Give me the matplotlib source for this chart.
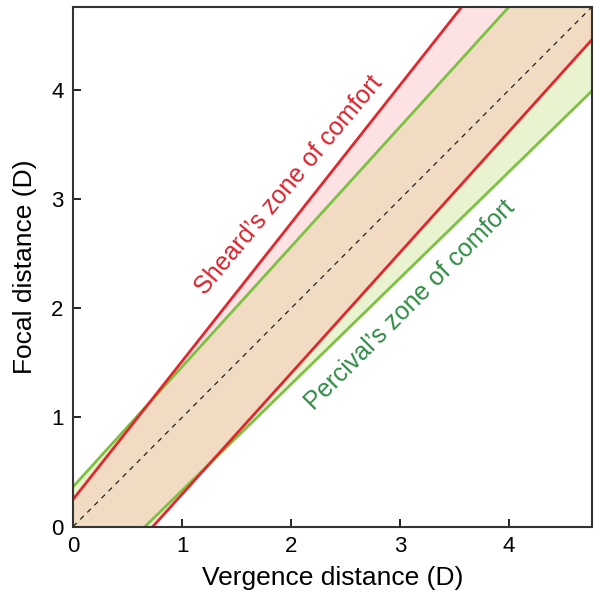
import numpy as np
import matplotlib.pyplot as plt

plt.rcParams['font.family'] = ['Liberation Sans', 'DejaVu Sans']

# zone boundaries: focal = intercept + slope * vergence
sheard_upper = (0.25, 1.265)
sheard_lower = (-0.81, 1.107)
percival_upper = (0.366, 1.099)
percival_lower = (-0.642, 0.973)

ticks = [0, 1, 2, 3, 4]
lim = 4.76

red = '#e3262c'
green = '#7dc142'
tan = '#f1dcc3'
pink = '#fde2e3'
lightgreen = '#e9f3d0'

x = np.linspace(0, lim, 500)
su = sheard_upper[0] + sheard_upper[1] * x
sl = sheard_lower[0] + sheard_lower[1] * x
pu = percival_upper[0] + percival_upper[1] * x
pl = percival_lower[0] + percival_lower[1] * x

fig = plt.figure(figsize=(6, 5.99), dpi=100)
ax = fig.add_axes([0.122, 0.121, 0.864, 0.867])

lo = np.maximum(sl, pl)
hi = np.minimum(su, pu)
ax.fill_between(x, lo, hi, color=tan, lw=0)
# Sheard only
ax.fill_between(x, pu, su, where=su > pu, color=pink, lw=0)
ax.fill_between(x, sl, pl, where=pl > sl, color=pink, lw=0)
# Percival only
ax.fill_between(x, su, pu, where=pu > su, color=lightgreen, lw=0)
ax.fill_between(x, pl, sl, where=sl > pl, color=lightgreen, lw=0)

ax.plot(x, pu, color=green, lw=2)
ax.plot(x, pl, color=green, lw=2)
ax.plot(x, su, color=red, lw=2)
ax.plot(x, sl, color=red, lw=2)
ax.plot([0, lim], [0, lim], color='#222222', lw=0.9, ls=(0, (4, 4)))

ax.text(1.98, 3.13, "Sheard\u2019s zone of comfort", color='#d9232d', fontsize=18,
        rotation=50, ha='center', va='center', rotation_mode='anchor')
ax.text(3.09, 2.03, "Percival\u2019s zone of comfort", color='#2f8c45', fontsize=18,
        rotation=45, ha='center', va='center', rotation_mode='anchor')

ax.set_xlim(0, lim)
ax.set_ylim(0, lim)
ax.set_xticks(ticks)
ax.set_yticks(ticks)
ax.tick_params(direction='in', length=6, width=1.2, labelsize=16, pad=7)
for s in ax.spines.values():
    s.set_linewidth(1.5)
    s.set_color('#333333')
ax.set_xlabel("Vergence distance (D)", fontsize=19, labelpad=6)
ax.set_ylabel("Focal distance (D)", fontsize=19, labelpad=10)

fig.savefig('out.png', dpi=100)
